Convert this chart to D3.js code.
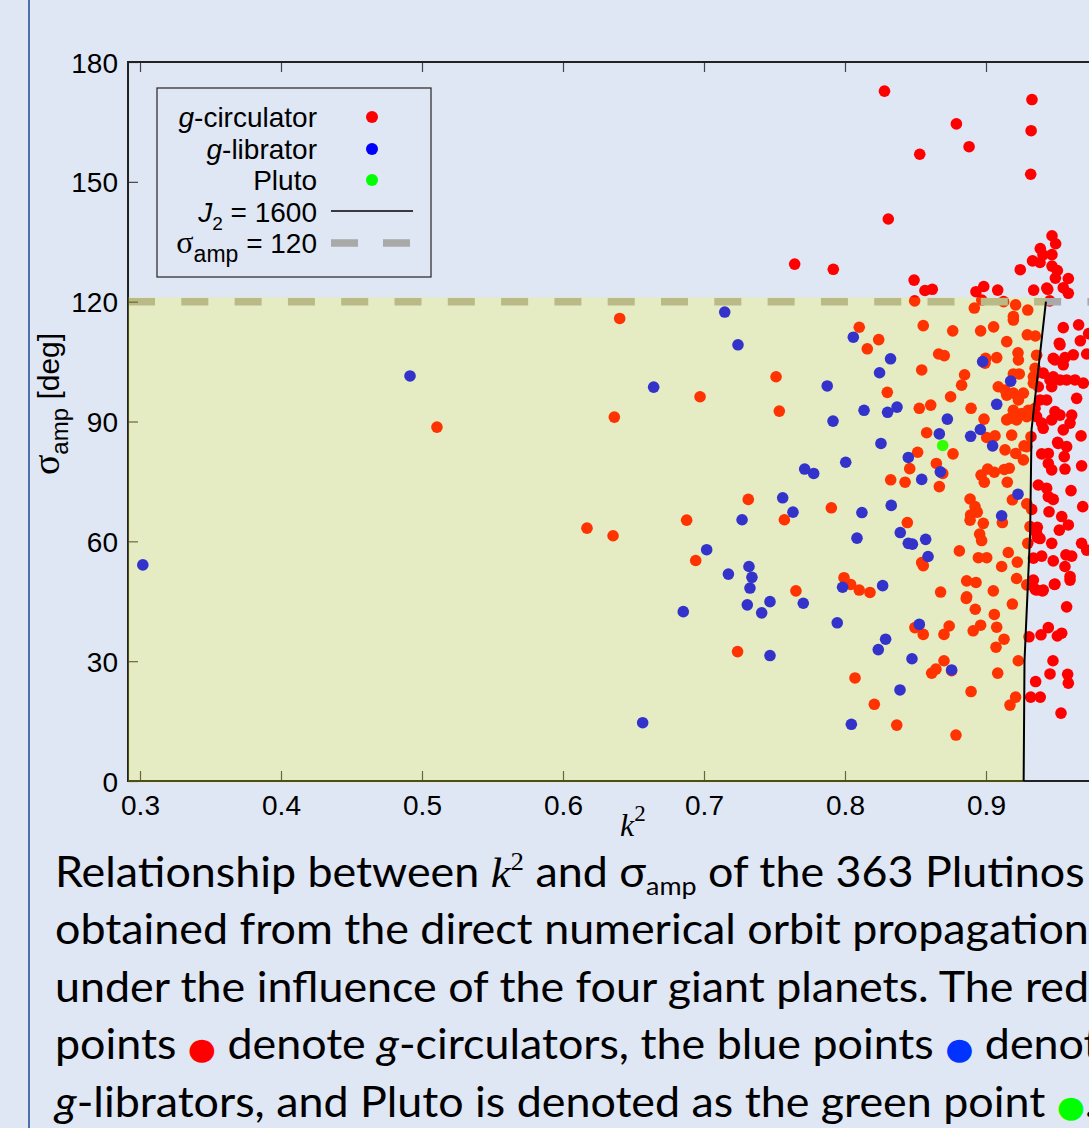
<!DOCTYPE html>
<html>
<head>
<meta charset="utf-8">
<script src="https://cdn.jsdelivr.net/npm/d3@7"></script>
<style>
body{margin:0;background:#dfe6f4;}
svg{display:block;}
</style>
</head>
<body>
<svg id="fig" width="1089" height="1128"></svg>
<script>
// values: [k^2, sigma_amp in deg]
var circulators = [
 [0.828,172.7],[0.9326,170.6],[0.879,164.5],[0.932,162.8],[0.888,158.8],[0.853,156.9],[0.9317,151.9],[0.8307,140.7],
 [0.7643,129.4],[0.7917,128.1],[0.9468,136.5],[0.9494,134.5],[0.9385,133.3],[0.9468,131.8],[0.9404,131.7],[0.933,130.2],
 [0.9383,129.8],[0.9243,128],[0.9468,128.9],[0.9506,127.8],[0.9492,125.9],[0.9584,125.8],[0.9548,123.5],[0.9584,122.1],
 [0.9338,122.9],[0.9438,123.1],[0.849,125.4],[0.8567,122.8],[0.8619,123.1],[0.8929,122.5],[0.8984,123.8],[0.9083,122.9],
 [0.9431,123.4],
 [0.8494,120.2],[0.897,120.4],[0.9125,120],[0.9452,120.2],[0.921,119.2],[0.8917,118.4],[0.9296,117.9],[0.9194,116.3],
 [0.9194,115.4],[0.9548,113.5],[0.9657,114.2],[0.6402,115.8],
 [0.8101,113.6],[0.8239,110.5],[0.8158,108.2],[0.8555,114],[0.8764,112.7],[0.8962,112.7],[0.9054,113.7],[0.9147,110],
 [0.9293,111.7],[0.935,111.4],[0.8664,106.9],[0.8704,106.5],[0.8997,105.8],[0.9076,106],[0.9227,107.2],[0.9359,106.6],
 [0.9525,109.2],[0.9669,110.2],[0.9728,112],[0.9477,105.8],[0.956,106],[0.9619,106.7],[0.9714,106.9],[0.8544,102.9],
 [0.8848,101.7],[0.8827,99.1],[0.83,97.3],[0.923,105.4],[0.9236,101.9],[0.9194,101.9],[0.9087,98.7],[0.9135,97.9],
 [0.9147,96.6],[0.952,109.6],[0.9489,105.4],[0.8993,104.6],[0.9348,103.3],[0.9336,101.2],[0.9336,99.6],
 [0.9406,102.1],[0.9454,100.4],[0.9466,98.7],[0.9525,100.4],[0.9631,100.4],[0.969,99.6],[0.9643,95.8],[0.9371,98.7],
 [0.9383,95.4],[0.943,95.4],[0.9348,93.3],[0.9359,91.2],[0.9395,89.6],[0.9489,92.5],[0.9525,91.6],[0.9466,90.4],
 [0.9608,91.6],[0.9596,89.6],[0.9548,87.9],[0.9674,86.4],[0.9548,104.2],[0.9477,101.2],[0.9572,100.4],[0.9406,88.3],
 [0.9512,84.5],
 [0.6972,96.2],[0.6364,91.1],[0.7511,101.2],[0.7534,92.6],[0.8527,93.3],[0.8608,94.1],[0.8749,96.2],[0.8894,93.3],
 [0.8579,87.2],[0.8986,90.6],[0.9005,86],[0.9064,86.4],[0.9182,86.6],[0.9265,97.1],[0.923,95.4],[0.9194,92.8],
 [0.9253,92],[0.917,90.8],[0.93,92.8],[0.9319,86.2],[0.9289,83.7],[0.927,83.9],[0.9194,97.1],[0.9217,90.4],
 [0.9289,91.2],[0.9336,92],[0.9147,90.4],
 [0.8766,81.9],[0.8515,82.3],[0.8459,78.2],[0.8648,79.5],[0.8693,77],[0.8324,75.4],[0.8426,74.8],[0.8669,73.7],
 [0.9135,82.9],[0.9211,82],[0.9265,80.4],[0.9012,78.1],[0.9059,77.3],[0.8988,74.8],[0.8965,76.6],[0.913,78],
 [0.9165,78.3],[0.9151,74.8],[0.9187,70.4],[0.9289,69.4],[0.9116,64.7],[0.8981,64.5],[0.8887,70.6],[0.8922,68.7],
 [0.8938,67.3],[0.8887,65.3],[0.8891,66.6],[0.8955,61.8],[0.8969,60.2],[0.7314,70.5],[0.6877,65.3],[0.757,65.4],
 [0.7903,68.4],[0.8442,64.7],[0.6355,61.4],[0.617,63.3],[0.5106,88.6],[0.9296,59.5],
 [0.8811,57.6],[0.8946,55.9],[0.9005,55.9],[0.9158,57.2],[0.9222,54.8],[0.9111,53.7],[0.9217,50.7],[0.8863,50.1],
 [0.8929,49.7],[0.9052,47.6],[0.8863,46.1],[0.8678,47.3],[0.9289,49.1],[0.6941,55.2],[0.8544,54.7],[0.8555,53.9],
 [0.7993,50.9],[0.804,49.2],[0.8101,47.8],[0.8177,47.2],[0.7652,47.6],[0.886,45.7],[0.8924,43],[0.9187,44.3],
 [0.9059,41.7],[0.8962,39],[0.8909,37.6],[0.9076,38.5],[0.8739,38.8],[0.8702,36.7],[0.9128,35.5],[0.9071,33.5],
 [0.8702,30.1],[0.8645,28],[0.8615,27],[0.8756,27.6],[0.9083,27],[0.9229,30.1],[0.8894,22.4],[0.921,21],
 [0.917,19],[0.8496,38.4],[0.8555,36.7],[0.7238,32.4],[0.8071,25.8],[0.8208,19.2],[0.8367,14],[0.8787,11.5],
 [0.9508,84.8],[0.9572,83.7],[0.9555,81.2],[0.9395,81.9],[0.9442,82],[0.9442,79.5],[0.9466,77.9],[0.956,78.1],
 [0.9678,78.9],[0.9371,74.1],[0.943,73.3],[0.9442,71.2],[0.9477,70.5],[0.9603,72.7],[0.9686,68.7],[0.9324,68],
 [0.9447,67.4],[0.9537,66.2],[0.9584,64.1],[0.952,62.8],[0.9312,63.7],[0.9364,63.5],[0.9364,61],[0.9466,59.5],
 [0.9678,59.5],[0.9714,57.8],[0.9336,55.8],[0.9395,56.3],[0.9477,55.1],[0.9567,56.6],[0.9608,56.3],[0.956,53.7],
 [0.9596,51.2],[0.9336,50.3],[0.9359,47.8],[0.9406,47.8],[0.9489,49.3],[0.9348,48],[0.94,47.6],[0.9485,49.2],
 [0.9596,50.3],[0.9572,43.6],[0.9305,36.1],[0.939,36.6],[0.9442,38.4],[0.9506,36.3],[0.9537,37],[0.9475,30.1],
 [0.9352,24.9],[0.9454,26.8],[0.9579,26.7],[0.9584,24.5],[0.9317,21],[0.9385,21],[0.9532,17],[0.9359,62],
 [0.9383,60.7]
];
var librators = [
 [0.302,54.1],[0.4915,101.4],[0.7147,117.4],[0.7241,109.2],[0.8059,111.1],[0.8323,105.7],[0.8976,105],[0.6643,98.6],
 [0.7874,98.9],[0.7915,90.1],[0.8245,102.2],[0.8135,92.8],[0.8302,92.3],[0.8369,93.6],[0.8255,84.5],[0.8005,79.8],
 [0.7714,78.1],[0.7778,77],[0.8726,90.6],[0.8669,86.9],[0.8449,81],[0.8676,77.4],[0.8544,75.5],[0.8891,86.3],
 [0.896,88],[0.9047,83.9],[0.9175,100.1],[0.9076,94.3],[0.9227,71.8],[0.9111,66.4],[0.7558,70.9],[0.7631,67.3],
 [0.727,65.4],[0.812,67.2],[0.8328,69],[0.8392,62.2],[0.8449,59.5],[0.8478,59.3],[0.8572,60.5],[0.8589,56.2],
 [0.8085,60.8],[0.7019,57.9],[0.7173,51.8],[0.7319,53.7],[0.734,51],[0.7326,48.3],[0.7983,48.5],[0.8267,48.9],
 [0.7307,44.1],[0.7468,44.9],[0.7409,42.1],[0.6853,42.4],[0.7704,44.5],[0.7945,39.6],[0.7468,31.4],[0.6565,14.6],
 [0.8527,39.2],[0.8288,35.5],[0.8236,32.9],[0.8475,30.6],[0.839,22.8],[0.8045,14.2],[0.8756,27.8]
];
var pluto = [[0.8693,84.0]];

// J2 = 1600 boundary, [k^2, sigma_amp]
var j2Curve = [[0.9267,0],[0.9273,30],[0.9298,50],[0.9313,62],[0.9323,88],[0.9425,120]];
var sigmaCut = 120;

var xTicks = [0.3,0.4,0.5,0.6,0.7,0.8,0.9,1.0];
var yTicks = [0,30,60,90,120,150,180];

var legendNames = ['circ','lib','pluto','j2','cut'];
var legendColors = ['#ff0000','#0000ff','#00ff00'];

var captionLines = [
 [{t:'Relationship between '},{t:'k',c:'k'},{t:'2',c:'sup'},{t:' and σ'},{t:'amp',c:'sub'},{t:' of the 363 Plutinos'}],
 [{t:'obtained from the direct numerical orbit propagation'}],
 [{t:'under the influence of the four giant planets. The red'}],
 [{t:'points '},{t:'●',c:'dot',f:'#ff0000'},{t:' denote '},{t:'g',c:'it'},{t:'-circulators, the blue points '},{t:'●',c:'dot',f:'#0033ff'},{t:' denote'}],
 [{t:'g',c:'it'},{t:'-librators, and Pluto is denoted as the green point '},{t:'●',c:'dot',f:'#00ff00'},{t:'.'}]
];

var svg = d3.select('#fig');
var sans = 'Liberation Sans, Arial, sans-serif';
var serif = 'Liberation Serif, Times New Roman, serif';

svg.append('rect').attr('width',1089).attr('height',1128).attr('fill','#dfe6f4');
svg.append('line').attr('x1',29).attr('x2',29).attr('y1',0).attr('y2',1128)
	.attr('stroke','#4f70ad').attr('stroke-width',2);

var xScale = d3.scaleLinear().domain([0.3,0.9]).range([140,986]);
var yScale = d3.scaleLinear().domain([0,180]).range([781,62]);
var kMin = 0.2915, kMax = 1.0;
var px0 = xScale(kMin), px1 = xScale(kMax);

//points
var pts = svg.append('g');
pts.selectAll('circle.circ').data(circulators).enter().append('circle')
	.attr('cx',function(d){ return xScale(d[0]); })
	.attr('cy',function(d){ return yScale(d[1]); })
	.attr('r',5.8).attr('fill','#ff0000');
pts.selectAll('circle.lib').data(librators).enter().append('circle')
	.attr('cx',function(d){ return xScale(d[0]); })
	.attr('cy',function(d){ return yScale(d[1]); })
	.attr('r',5.8).attr('fill','#0000ff');
pts.selectAll('circle.pl').data(pluto).enter().append('circle')
	.attr('cx',function(d){ return xScale(d[0]); })
	.attr('cy',function(d){ return yScale(d[1]); })
	.attr('r',5.8).attr('fill','#00ff00');

//sigma_amp = 120 dashed line
svg.append('line').attr('x1',px0).attr('x2',px1)
	.attr('y1',yScale(sigmaCut)).attr('y2',yScale(sigmaCut))
	.attr('stroke','#a9a9a9').attr('stroke-width',7.5).attr('stroke-dasharray','27,26.3');

//axes
function styleAxis(g){
	g.select('.domain').remove();
	g.selectAll('.tick line').attr('stroke','#444').attr('stroke-width',1.2);
	g.selectAll('.tick text').attr('font-family',sans).attr('font-size',28).attr('fill','#000');
}
var gx = svg.append('g').attr('transform','translate(0,'+yScale(0)+')')
	.call(d3.axisBottom(xScale).tickValues(xTicks).tickSizeInner(-10).tickSizeOuter(0).tickPadding(14)
		.tickFormat(function(d){ return d<0.95 ? d3.format('.1f')(d) : ''; }));
styleAxis(gx);
var gxt = svg.append('g').attr('transform','translate(0,'+yScale(180)+')')
	.call(d3.axisTop(xScale).tickValues(xTicks).tickSizeInner(-10).tickSizeOuter(0).tickFormat(''));
styleAxis(gxt);
var gy = svg.append('g').attr('transform','translate('+px0+',0)')
	.call(d3.axisLeft(yScale).tickValues(yTicks).tickSizeInner(-10).tickSizeOuter(0).tickPadding(10));
styleAxis(gy);
gy.selectAll('.tick text').attr('dy','0.36em');

//frame
svg.append('path')
	.attr('d','M'+px1+','+yScale(180)+'H'+px0+'V'+yScale(0)+'H'+px1)
	.attr('fill','none').attr('stroke','#222').attr('stroke-width',2);

//translucent yellow region left of the J2 curve and below 120 deg
var curveTop = j2Curve[j2Curve.length-1];
var shade = [[kMin,sigmaCut+1.1],[curveTop[0],sigmaCut+1.1]]
	.concat(j2Curve.slice().reverse())
	.concat([[j2Curve[0][0],-0.4],[kMin,-0.4]]);
var line = d3.line().x(function(d){ return xScale(d[0]); }).y(function(d){ return yScale(d[1]); });
svg.append('path').attr('d',line(shade)+'Z').attr('fill','#ffff00').attr('fill-opacity',0.2);

svg.append('path').datum(j2Curve).attr('d',line)
	.attr('fill','none').attr('stroke','#000').attr('stroke-width',2);

//legend
var leg = svg.append('g');
leg.append('rect').attr('x',157).attr('y',88).attr('width',274).attr('height',189)
	.attr('fill','none').attr('stroke','#333').attr('stroke-width',1.3);
var rowY = [127,159,190,222,253];
legendNames.forEach(function(n,i){
	var t = leg.append('text').attr('x',317).attr('y',rowY[i]).attr('text-anchor','end')
		.attr('font-family',sans).attr('font-size',28);
	if(n=='circ'){ t.append('tspan').attr('font-style','italic').text('g'); t.append('tspan').text('-circulator'); }
	if(n=='lib'){ t.append('tspan').attr('font-style','italic').text('g'); t.append('tspan').text('-librator'); }
	if(n=='pluto') t.text('Pluto');
	if(n=='j2'){
		t.append('tspan').attr('font-style','italic').text('J');
		t.append('tspan').attr('font-size',19).attr('dy',8).text('2');
		t.append('tspan').attr('dy',-8).text(' = 1600');
	}
	if(n=='cut'){
		t.append('tspan').attr('font-family',serif).attr('font-size',32).text('σ');
		t.append('tspan').attr('font-size',23).attr('dy',9).text('amp');
		t.append('tspan').attr('dy',-9).text(' = 120');
	}
	if(i<3) leg.append('circle').attr('cx',372).attr('cy',rowY[i]-10).attr('r',6).attr('fill',legendColors[i]);
});
leg.append('line').attr('x1',331).attr('x2',413).attr('y1',211).attr('y2',211)
	.attr('stroke','#000').attr('stroke-width',1.6);
leg.append('line').attr('x1',331).attr('x2',413).attr('y1',243).attr('y2',243)
	.attr('stroke','#a9a9a9').attr('stroke-width',7.5).attr('stroke-dasharray','27,25');

//axis titles
var yl = svg.append('text').attr('transform','translate(59,404) rotate(-90)')
	.attr('text-anchor','middle').attr('font-family',sans).attr('font-size',30);
yl.append('tspan').attr('font-family',serif).attr('font-size',38).text('σ');
yl.append('tspan').attr('font-size',24).attr('dy',9).text('amp');
yl.append('tspan').attr('dy',-9).text(' [deg]');

var xl = svg.append('text').attr('x',620).attr('y',836).attr('font-family',serif).attr('font-size',32);
xl.append('tspan').attr('font-style','italic').text('k');
xl.append('tspan').attr('font-size',23).attr('dy',-15).text('2');

//caption, Lato squeezed horizontally to the narrow look of the original
var capFont = 'Lato, Open Sans, sans-serif';
var capSize = 42;
var cap = svg.append('g');
function drawCaption(sx){
	cap.selectAll('*').remove();
	cap.attr('transform','translate(55,0) scale('+sx+',1)');
	var first = null;
	captionLines.forEach(function(segs,li){
		var t = cap.append('text').attr('x',0).attr('y',887+li*57.5)
			.attr('font-family',capFont).attr('font-size',capSize).attr('fill','#000');
		var shift = 0;
		segs.forEach(function(s){
			var sh = s.c=='sup' ? -0.4*capSize : (s.c=='sub' ? 0.2*capSize : 0);
			var ts = t.append('tspan').text(s.t);
			if(sh!=shift) ts.attr('dy',sh-shift);
			shift = sh;
			if(s.c=='k') ts.attr('font-family',serif).attr('font-style','italic');
			if(s.c=='sup') ts.attr('font-family',serif).attr('font-size',capSize*0.6);
			if(s.c=='sub') ts.attr('font-size',capSize*0.6);
			if(s.c=='it') ts.attr('font-style','italic');
			if(s.c=='dot') ts.attr('fill',s.f).attr('font-family','DejaVu Sans').attr('font-size',capSize*0.72);
		});
		if(li==0) first = t;
	});
	return first.node().getComputedTextLength();
}
var w = drawCaption(1);
drawCaption(1030/w);
</script>
</body>
</html>
